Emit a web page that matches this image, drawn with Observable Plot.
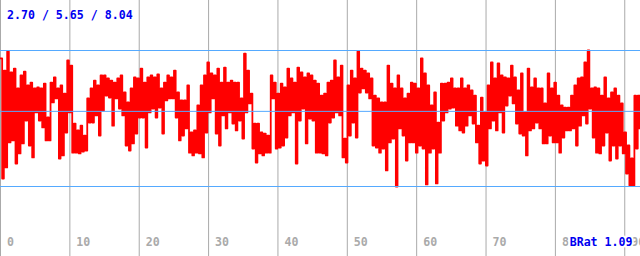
<!DOCTYPE html>
<html><head><meta charset="utf-8">
<script src="https://cdn.jsdelivr.net/npm/d3@7"></script>
<script src="https://cdn.jsdelivr.net/npm/@observablehq/plot@0.6"></script>
<style>html,body{margin:0;padding:0;background:#fff}svg{display:block}</style>
</head><body><div id="chart"></div>
<script>
// sampling interval of the series (x units)
const dt = 0.481;
// upper and lower envelope of each sample interval
const hi = [
7.73,7.25,8.00,7.18,7.33,6.55,7.06,7.21,6.67,6.78,6.55,6.59,6.55,6.74,5.41,6.78,6.98,6.55,6.67,6.35,7.65,7.45,5.17,4.90,5.09,4.70,6.16,6.55,6.86,6.67,7.06,7.06,
6.94,6.86,6.78,6.94,7.06,6.39,6.00,6.55,6.98,6.94,7.33,6.78,6.98,7.06,6.98,7.10,6.55,6.78,7.06,6.98,7.25,6.39,6.08,6.08,6.67,4.82,4.90,5.88,6.67,7.06,7.57,
7.14,7.06,7.33,6.78,7.37,6.78,6.86,6.78,6.78,6.16,7.92,7.25,6.35,5.17,5.17,4.82,4.78,4.70,7.06,6.78,6.35,6.74,6.59,7.33,6.94,6.78,7.37,7.18,6.98,7.14,7.06,6.86,
6.74,6.27,6.35,6.78,6.86,7.65,6.98,7.45,4.58,6.67,7.25,6.94,8.00,7.33,7.25,7.14,6.94,6.27,6.16,6.00,6.00,7.45,6.74,6.55,7.06,6.55,6.16,6.35,6.78,6.74,6.55,
7.73,7.14,6.67,5.88,6.39,5.21,6.74,6.74,6.78,6.94,6.55,6.55,6.94,6.55,6.67,6.47,6.27,5.09,6.19,5.61,6.67,7.57,6.94,7.53,7.06,6.98,6.94,7.45,6.98,6.47,7.14,5.61,
7.33,6.59,6.94,6.55,6.55,5.96,7.14,6.55,6.78,6.27,5.88,5.80,5.80,6.27,6.67,6.94,6.98,7.57,8.04,6.55,6.59,6.55,6.27,6.98,6.16,6.39,6.55,6.27,5.96,4.82,4.31,3.80,6.27,6.27,6.16
];
const lo = [
3.01,3.45,4.43,4.51,3.60,4.00,4.39,5.29,4.31,3.84,5.61,5.29,5.02,4.51,4.51,6.00,6.16,3.80,3.92,4.82,5.61,4.03,4.03,4.00,4.07,4.11,5.21,5.21,5.49,4.70,5.68,6.27,
6.19,5.09,6.16,5.76,5.49,4.31,4.11,4.39,4.78,5.41,5.41,4.23,5.61,5.76,5.41,5.80,4.78,6.08,6.16,6.16,5.41,4.51,4.70,4.98,4.03,3.92,4.03,4.00,3.84,4.82,5.61,
6.16,4.78,4.31,5.49,4.98,5.61,5.17,4.90,5.29,4.58,5.61,5.96,4.19,3.64,4.00,3.92,4.03,4.03,6.16,4.19,4.23,4.31,4.62,5.49,5.61,3.60,5.29,5.76,4.39,5.37,5.29,4.03,
4.03,4.00,3.92,5.21,5.41,5.61,5.49,3.84,3.64,4.70,5.21,4.62,6.39,6.55,6.39,6.16,4.31,4.23,4.03,4.19,3.33,4.43,4.58,2.70,4.98,4.70,3.72,4.43,4.43,4.03,4.31,
4.19,2.78,4.03,4.19,2.82,4.03,5.29,5.61,5.76,5.80,5.09,4.90,4.82,5.09,5.49,5.17,4.43,3.60,3.72,3.52,4.98,5.29,4.90,5.61,4.82,5.88,6.27,5.96,5.17,4.78,4.70,3.92,
4.90,4.98,5.21,4.98,4.39,4.39,4.70,4.43,4.43,4.03,4.62,4.90,4.90,4.98,4.31,5.09,5.49,5.17,5.76,4.62,4.03,4.00,4.31,4.82,3.72,4.31,3.80,4.31,4.00,3.21,2.74,2.74,4.19,4.98,5.37
];
// min / avg / max reference lines
const stats = [2.70, 5.65, 8.04];
const statsLabel = "2.70 / 5.65 / 8.04";
const xTicks = [0, 10, 20, 30, 40, 50, 60, 70, 80, 90];
const ratioLabel = "BRat 1.09";

const pts = [];
hi.forEach((h, i) => {
  pts.push({t: i * dt, v: h});
  pts.push({t: (i + 0.5) * dt, v: lo[i]});
});

const font = "DejaVu Sans Mono";
const chart = Plot.plot({
  width: 640, height: 256, margin: 0,
  x: {domain: [0, 92.27], range: [0, 640], axis: null},
  y: {domain: [2.70, 8.04], range: [186, 50], axis: null},
  style: {background: "#fff", fontFamily: font},
  marks: [
    Plot.ruleX(xTicks, {stroke: "#aaaaaa", strokeWidth: 1}),
    Plot.line(pts, {x: "t", y: "v", curve: "step-after", stroke: "#ff0000", strokeWidth: 1.8}),
    Plot.ruleY(stats, {stroke: "#55aaff", strokeWidth: 1}),
    Plot.text(xTicks, {x: d => d, text: d => String(d), frameAnchor: "bottom", lineAnchor: "bottom",
      textAnchor: "start", dx: 6.5, dy: -11, fill: "#aaaaaa", fontSize: 11.6, fontWeight: "bold"}),
    Plot.text([statsLabel], {text: d => d, frameAnchor: "top-left", lineAnchor: "top",
      textAnchor: "start", dx: 6.5, dy: 10, fill: "#0000f0", fontSize: 11.6, fontWeight: "bold"}),
    Plot.text([ratioLabel], {text: d => d, frameAnchor: "bottom-right", lineAnchor: "bottom",
      textAnchor: "end", dx: -8, dy: -11, fill: "#0000f0", stroke: "#ffffff", strokeWidth: 4,
      paintOrder: "stroke", fontSize: 11.6, fontWeight: "bold"})
  ]
});
document.getElementById("chart").appendChild(chart);
</script>
</body></html>
